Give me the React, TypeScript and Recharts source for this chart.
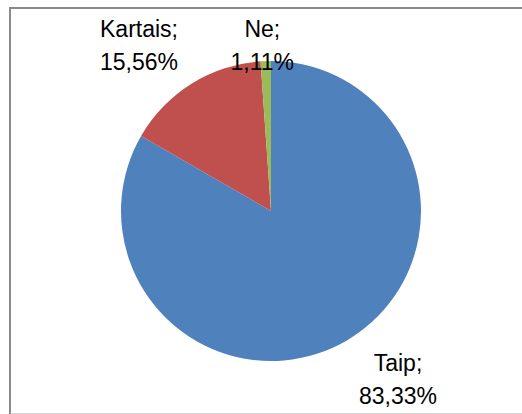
import { PieChart, Pie, Cell } from 'recharts'

const categories = ['Taip', 'Kartais', 'Ne']
const shares = [83.33, 15.56, 1.11]
const shareLabels = ['83,33%', '15,56%', '1,11%']
const colors = ['#4F81BD', '#C0504D', '#9BBB59']

const data = categories.map((name, i) => ({ name, value: shares[i], text: shareLabels[i] }))

// how far out (beyond the rim) and how much to rotate each label, roughly like Excel's best fit
const labelPlacement = [
    { extra: 61, rot: 7 },
    { extra: 62, rot: 6.5 },
    { extra: 16, rot: 1 },
]

const RAD = Math.PI / 180

function renderLabel(props: any) {
    const { cx, cy, midAngle, outerRadius, index } = props
    const p = labelPlacement[index]
    const r = outerRadius + p.extra
    const a = midAngle + p.rot
    const x = cx + r * Math.cos(-a * RAD)
    const y = cy + r * Math.sin(-a * RAD)
    const d = data[index]
    return (
        <text x={x} y={y} textAnchor="middle" fill="#000" fontSize={23} fontFamily="'Liberation Sans', Arial, sans-serif">
            <tspan x={x} y={y - 8}>{d.name};</tspan>
            <tspan x={x} y={y + 25}>{d.text}</tspan>
        </text>
    )
}

export default function App() {
    return (
        <div style={{ position: 'absolute', left: 0, top: 0, width: 522, height: 414, background: '#fff', overflow: 'hidden' }}>
            <div
                style={{
                    position: 'absolute',
                    left: 9,
                    top: 7,
                    width: 600,
                    height: 404,
                    borderTop: '2px solid #8a8a8a',
                    borderLeft: '2px solid #8a8a8a',
                    borderBottom: '2px solid #d6d6d6',
                }}
            />
            <div style={{ position: 'absolute', left: 0, top: 0 }}>
                <PieChart width={522} height={414} margin={{ top: 0, right: 0, bottom: 0, left: 0 }}>
                    <Pie
                        data={data}
                        dataKey="value"
                        nameKey="name"
                        cx={271}
                        cy={211}
                        outerRadius={150}
                        startAngle={90}
                        endAngle={-270}
                        stroke="none"
                        label={renderLabel}
                        labelLine={false}
                        isAnimationActive={false}
                    >
                        {data.map((d, i) => (
                            <Cell key={d.name} fill={colors[i]} />
                        ))}
                    </Pie>
                </PieChart>
            </div>
        </div>
    )
}
